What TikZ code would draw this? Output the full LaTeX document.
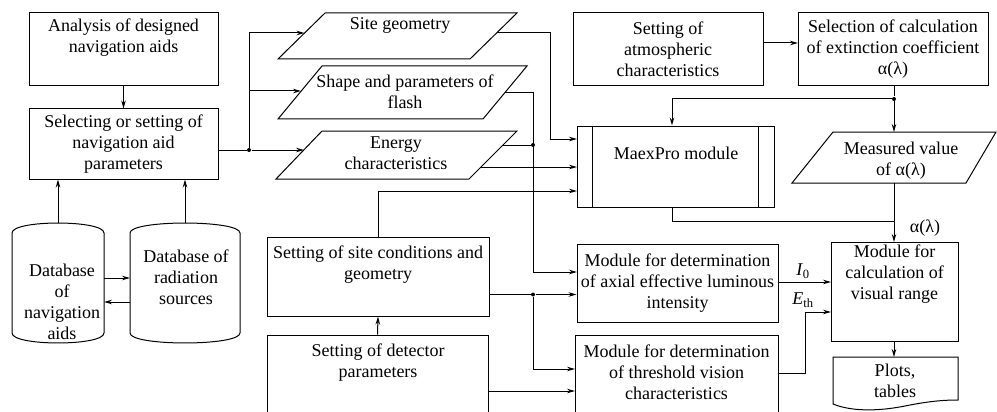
\documentclass[tikz,border=0pt]{standalone}
\usepackage{fontspec}
\setmainfont{Liberation Serif}
\usetikzlibrary{arrows.meta}
\begin{document}
\begin{tikzpicture}[x=1pt,y=-1pt,line width=1pt,
  font=\fontsize{18}{21}\selectfont,
  box/.style={draw,rectangle,inner sep=0pt,align=center},
  arr/.style={-{Stealth[length=8pt,width=4.5pt]}},
  txt/.style={align=center,inner sep=0pt},
  jdot/.style={circle,fill,inner sep=0pt,minimum size=4pt}]
\useasboundingbox (0,0) rectangle (997,412);
\clip (0,0) rectangle (997,412);

% ---- left column
\node[box,minimum width=189pt,minimum height=73pt] (ana) at (123.5,49.5) {};
\node[txt] (anat) at (123.5,38) {Analysis of designed\\navigation aids};
\node[box,minimum width=189pt,minimum height=70pt] (sel) at (123.5,144) {Selecting or setting of\\navigation aid\\parameters};
\draw[arr] (ana.south) -- (sel.north);

% cylinders
\draw (12,233) .. controls (12,219.7) and (104,219.7) .. (104,233) -- (104,333)
      .. controls (104,346.3) and (12,346.3) .. (12,333) -- cycle;
\draw (130,233) .. controls (130,219.7) and (240,219.7) .. (240,233) -- (240,333)
      .. controls (240,346.3) and (130,346.3) .. (130,333) -- cycle;
\node[txt] (db1) at (62,301.5) {Database\\of\\navigation\\aids};
\node[txt] (db2) at (186,277.5) {Database of\\radiation\\sources};
\coordinate (db1t) at (58,223);
\coordinate (db2t) at (185,223);
\draw[arr] (db1t) -- (db1t |- sel.south);
\draw[arr] (db2t) -- (db2t |- sel.south);
\coordinate (c1a) at (104,278); \coordinate (c2a) at (130,278);
\coordinate (c1b) at (104,302); \coordinate (c2b) at (130,302);
\draw[arr] (c1a) -- (c2a);
\draw[arr] (c2b) -- (c1b);

% ---- parallelograms
\draw (278,59) -- (325,13) -- (517,13) -- (470,59) -- cycle;
\node[txt] (geo) at (400,25) {Site geometry};
\draw (278,119) -- (322,66) -- (527,66) -- (483,119) -- cycle;
\node[txt] (shp) at (405,92) {Shape and parameters of\\flash};
\draw (276,179) -- (322,131) -- (517,131) -- (469,179) -- cycle;
\node[txt] (ene) at (396,153) {Energy\\characteristics};

\coordinate (geoL) at (304.5,33);  \coordinate (geoR) at (497,33);
\coordinate (shpL) at (301,91);    \coordinate (shpR) at (504.6,93);
\coordinate (eneL) at (304,150);   \coordinate (eneR1) at (501.6,145);
\coordinate (eneR2) at (480.5,167);

\node[jdot] (j1) at (249,150) {};
\draw (sel.east |- j1) -- (j1);
\draw[arr] (j1) |- (geoL);
\draw[arr] (j1) |- (shpL);
\draw[arr] (j1) -- (eneL);

% ---- MaexPro
\node[box,minimum width=197pt,minimum height=81pt] (mx) at (675.5,166.5) {};
\node[txt] (mxt) at (676,153) {MaexPro module};
\draw ([xshift=16pt]mx.north west) -- ([xshift=16pt]mx.south west);
\draw ([xshift=-16pt]mx.north east) -- ([xshift=-16pt]mx.south east);

\coordinate (g1) at (550,33);
\coordinate (mxin1) at (577,139);
\coordinate (mxin2) at (577,167);
\coordinate (mxin3) at (577,191);
\draw[arr] (geoR) -- (g1) |- (mxin1);
\draw[arr] (eneR2) -- (mxin2);

% ---- site conditions, detector
\node[box,minimum width=222pt,minimum height=79pt] (sc) at (378,276.5) {};
\node[txt] (sct) at (378,265) {Setting of site conditions and\\geometry};
\node[box,minimum width=221pt,minimum height=95pt] (det) at (377.5,382.5) {};
\node[txt] (dett) at (378,363) {Setting of detector\\parameters};
\draw[arr] (sc.north) |- (mxin3);
\draw[arr] (det.north) -- (sc.south);

% ---- modules
\node[box,minimum width=201pt,minimum height=78pt] (ax) at (677.5,283) {Module for determination\\of axial effective luminous\\intensity};
\node[box,minimum width=203pt,minimum height=95pt] (thr) at (676.5,382.5) {};
\node[txt] (thrt) at (676.5,372) {Module for determination\\of threshold vision\\characteristics};

\coordinate (s1) at (533,93);
\coordinate (axin1) at (577,272);
\draw[arr] (shpR) -- (s1) |- (axin1);
\node[jdot] (j2) at (533,145) {};
\draw (eneR1) -- (j2);

\node[jdot] (j3) at (533,294.5) {};
\coordinate (thrin1) at (575,369);
\coordinate (thrin2) at (575,391);
\draw (sc.east |- j3) -- (j3);
\draw[arr] (j3) -- (ax.west |- j3);
\draw[arr] (j3) |- (thrin1);
\draw[arr] (det.east |- thrin2) -- (thrin2);

% ---- right column
\node[box,minimum width=190pt,minimum height=73pt] (atm) at (668,49.5) {Setting of\\atmospheric\\characteristics};
\node[box,minimum width=190pt,minimum height=73pt] (ext) at (893,49.5) {Selection of calculation\\of extinction coefficient\\α(λ)};
\coordinate (extin) at (798,43);
\draw[arr] (atm.east |- extin) -- (extin);

\node[jdot] (j4) at (894,99) {};
\coordinate (measT) at (894,132);
\coordinate (m1) at (672,99);
\draw (j4 |- ext.south) -- (j4);
\draw[arr] (j4) -- (measT);
\draw[arr] (j4) -- (m1) -- (m1 |- mx.north);

\draw (792,183) -- (833,132) -- (996,132) -- (966,183) -- cycle;
\node[txt] (meas) at (901,161) {Measured value\\of α(λ)};

\node[box,minimum width=127pt,minimum height=99pt] (calc) at (894.5,291.5) {};
\node[txt] (calct) at (894.5,274) {Module for\\calculation of\\visual range};
\coordinate (measB) at (894,183);
\coordinate (calcT) at (894,242);
\draw[arr] (measB) -- (calcT);
\coordinate (m2) at (672,221);
\coordinate (m3) at (894,221);
\draw (m2 |- mx.south) -- (m2) -- (m3);
\node[txt] (al) at (925,228) {α(λ)};

\coordinate (calcin1) at (831,282);
\coordinate (e1) at (805,373);
\coordinate (calcin2) at (831,312);
\draw[arr] (ax.east |- calcin1) -- (calcin1);
\draw[arr] (thr.east |- e1) -- (e1) |- (calcin2);
\node[txt] (i0) at (803,271) {\textit{I}\textsubscript{0}};
\node[txt] (eth) at (803,300) {\textit{E}\textsubscript{th}};

% plots
\draw (833,357) -- (958,357) -- (958,400)
  .. controls (940,400) and (925,402) .. (905,406)
  .. controls (885,410) and (855,413) .. (833,404) -- cycle;
\node[txt] (plt) at (895,381) {Plots,\\tables};
\coordinate (pltT) at (894,357);
\draw[arr] (pltT |- calc.south) -- (pltT);
\end{tikzpicture}
\end{document}
